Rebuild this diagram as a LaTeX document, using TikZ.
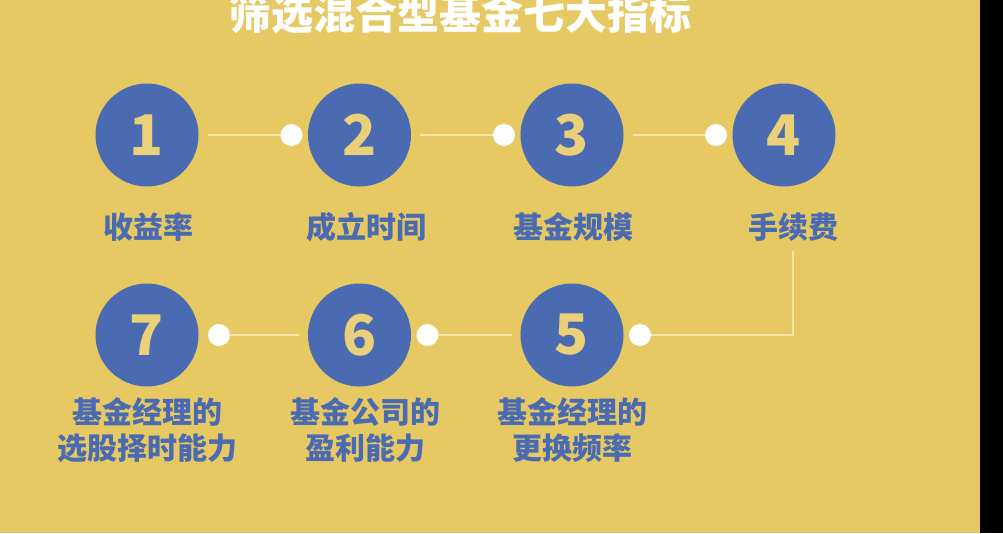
\documentclass[tikz,border=0pt]{standalone}
\usepackage{fontspec}
\setmainfont{Noto Sans CJK SC}
\usetikzlibrary{calc}
\definecolor{fundgold}{HTML}{E6C962}
\definecolor{fundblue}{HTML}{4A6BB2}
\definecolor{fundpale}{HTML}{F6E6AE}
\definecolor{fundnum}{HTML}{EBD07A}
\newcommand{\fT}{\fontsize{42}{46}\selectfont\bfseries}
\newcommand{\fN}{\fontsize{56}{60}\selectfont\bfseries}
\newcommand{\fL}{\fontsize{30}{36}\selectfont\bfseries}
\tikzset{every node/.style={inner sep=0pt,outer sep=0pt},
  disc/.style={circle,fill=fundblue,minimum size=103pt,text=fundnum,font=\fN},
  knob/.style={circle,fill=white,minimum size=22pt},
  lbl/.style={text=fundblue,font=\fL,align=center},
  link/.style={draw=fundpale,line width=2pt}}

\begin{document}
\begin{tikzpicture}[x=1pt,y=-1pt]
  \path[use as bounding box] (0,0) rectangle (1003,533);

  % Background and title
  \fill[fundgold] (0,0) rectangle (980,533);
  \fill[black] (980,0) rectangle (1003,533);
  \node[text=white,font=\fT] (title) at (460,14) {筛选混合型基金七大指标};

  % Numbered discs
  \node[disc] (c1) at (147,135) {1};
  \node[disc] (c2) at (359.5,135) {2};
  \node[disc] (c3) at (572,135) {3};
  \node[disc] (c4) at (784,135) {4};
  \node[disc] (c7) at (147,335) {7};
  \node[disc] (c6) at (359.5,335) {6};
  \node[disc] (c5) at (572,335) {5};

  % Labels
  \node[lbl] (l1) at (148,227) {收益率};
  \node[lbl] (l2) at (366,227) {成立时间};
  \node[lbl] (l3) at (573,227) {基金规模};
  \node[lbl] (l4) at (793,227) {手续费};
  \node[lbl] (l7) at (147,430) {基金经理的\\选股择时能力};
  \node[lbl] (l6) at (365,430) {基金公司的\\盈利能力};
  \node[lbl] (l5) at (572,430) {基金经理的\\更换频率};

  % White knobs beside the discs
  \node[knob] (k2) at ($(c2)+(-68,0)$) {};
  \node[knob] (k3) at ($(c3)+(-68,0)$) {};
  \node[knob] (k4) at ($(c4)+(-68,0)$) {};
  \node[knob] (k7) at ($(c7)+(72,0)$) {};
  \node[knob] (k6) at ($(c6)+(68,0)$) {};
  \node[knob] (k5) at ($(c5)+(68,0)$) {};

  % Links
  \draw[link,shorten <=9pt] (c1) -- (k2);
  \draw[link,shorten <=9pt] (c2) -- (k3);
  \draw[link,shorten <=9pt] (c3) -- (k4);
  \draw[link,shorten >=9pt] (k7) -- (c6);
  \draw[link,shorten >=9pt] (k6) -- (c5);
  \draw[link,shorten >=10pt] (k5) -- (k5 -| l4.south) -- (l4.south);
\end{tikzpicture}
\end{document}
